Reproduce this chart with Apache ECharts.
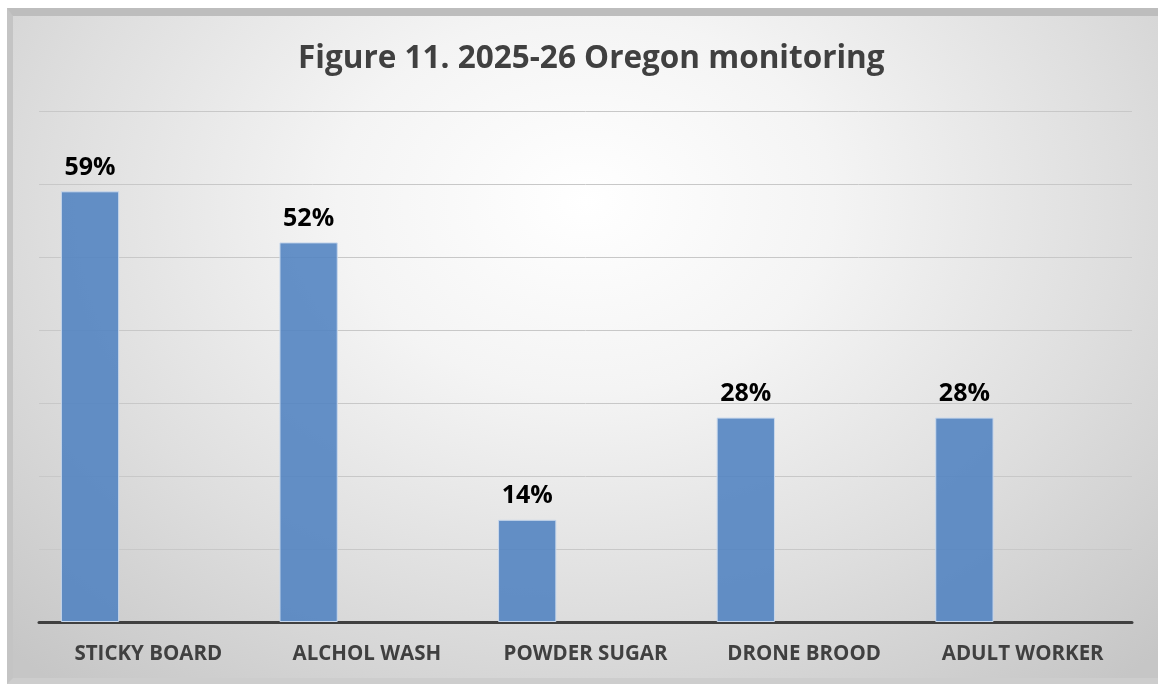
<!DOCTYPE html>
<html>
<head>
<meta charset="utf-8">
<script src="https://cdn.jsdelivr.net/npm/echarts@6/dist/echarts.min.js"></script>
<style>
  html, body { margin: 0; padding: 0; background: #ffffff; }
  #frame {
    position: absolute; left: 7px; top: 8px; width: 1151px; height: 676px;
    box-sizing: border-box;
    border-top: 8px solid #bdbdbd; border-left: 6px solid #c4c4c4; border-bottom: 6px solid #cdcdcd;
    background: radial-gradient(ellipse 72% 95% at 50% 28%, #ffffff 0%, #f4f4f4 30%, #dedede 65%, #c6c6c6 100%);
  }
  #chart { position: absolute; left: 0; top: 0; width: 1158px; height: 684px; }
</style>
</head>
<body>
<div id="frame"></div>
<div id="chart"></div>
<script>
const categories = ['STICKY BOARD', 'ALCHOL WASH', 'POWDER SUGAR', 'DRONE BROOD', 'ADULT WORKER'];
const percentValues = [59, 52, 14, 28, 28];
const emptyValues = ['-', '-', '-', '-', '-'];

const chart = echarts.init(document.getElementById('chart'));

const option = {
    backgroundColor: 'transparent',
    animation: false,
    title: {
        text: 'Figure 11. 2025-26 Oregon monitoring',
        left: 293,
        top: 38,
        textStyle: {
            fontFamily: 'Open Sans',
            fontWeight: 'bold',
            fontSize: 31.5,
            color: '#404040'
        }
    },
    grid: {
        left: 39,
        right: 26,
        top: 111,
        bottom: 62
    },
    xAxis: {
        type: 'category',
        data: categories,
        axisTick: { show: false },
        axisLine: { lineStyle: { color: '#404040', width: 3 } },
        axisLabel: {
            interval: 0,
            margin: 22,
            fontFamily: 'Open Sans',
            fontWeight: 'bold',
            fontSize: 20.5,
            color: '#404040'
        }
    },
    yAxis: {
        type: 'value',
        min: 0,
        max: 70,
        interval: 10,
        axisLabel: { show: false },
        axisLine: { show: false },
        axisTick: { show: false },
        splitLine: { lineStyle: { color: '#c8c8c8', width: 1 } }
    },
    series: [
        {
            type: 'bar',
            data: percentValues,
            barGap: '0%',
            barCategoryGap: '20%',
            itemStyle: {
                color: 'rgba(80,130,192,0.88)',
                borderColor: '#c9d8ec',
                borderWidth: 1
            },
            label: {
                show: true,
                position: 'top',
                distance: 11,
                formatter: '{c}%',
                fontFamily: 'Open Sans',
                fontWeight: 'bold',
                fontSize: 25,
                color: '#000000'
            }
        },
        { type: 'bar', data: emptyValues, barGap: '0%', barCategoryGap: '20%' },
        { type: 'bar', data: emptyValues, barGap: '0%', barCategoryGap: '20%' }
    ]
};

chart.setOption(option);
</script>
</body>
</html>
